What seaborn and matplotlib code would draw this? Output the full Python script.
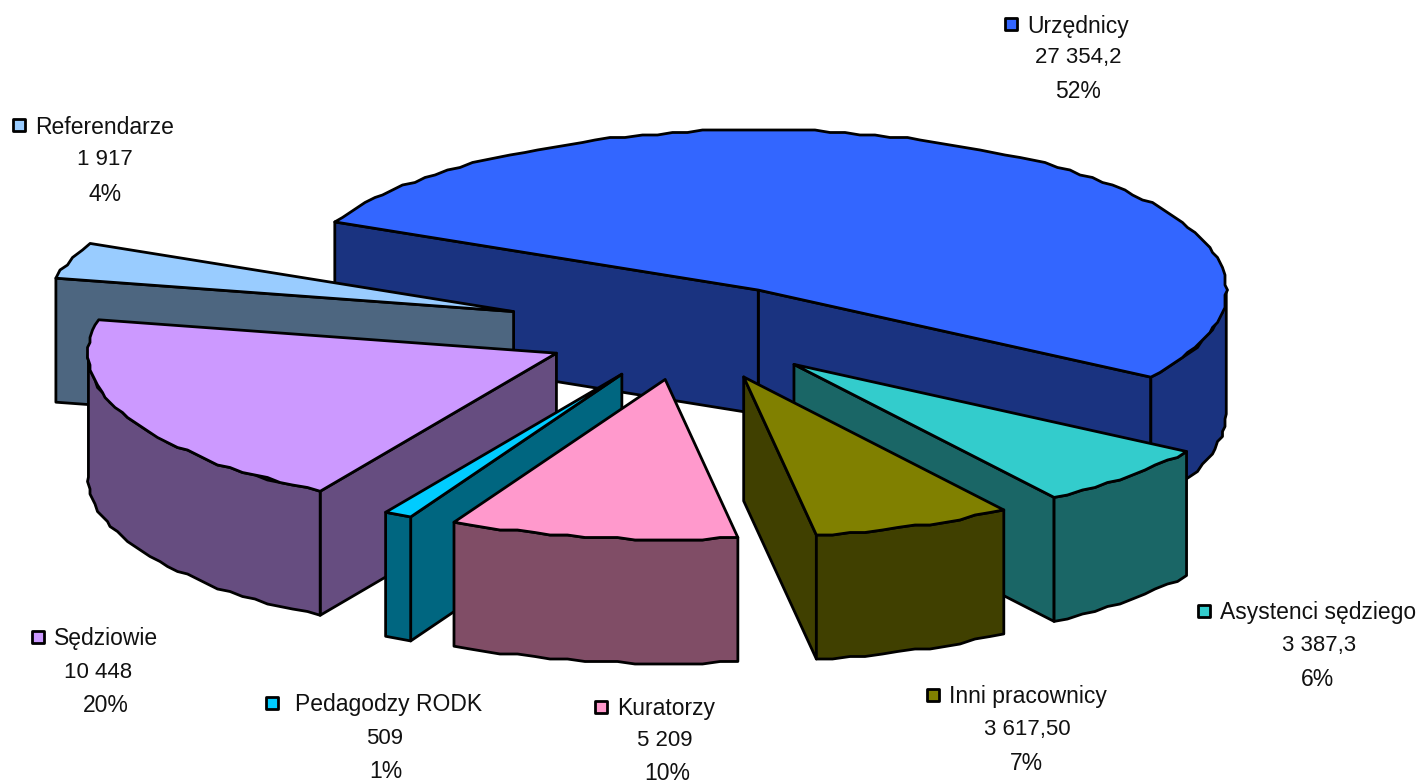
import numpy as np
import matplotlib
matplotlib.use('Agg')
import matplotlib.pyplot as plt
import seaborn as sns

# Data
names = ['Urzędnicy', 'Asystenci sędziego', 'Inni pracownicy', 'Kuratorzy',
         'Pedagodzy RODK', 'Sędziowie', 'Referendarze']
values = [27354.2, 3387.3, 3617.5, 5209, 509, 10448, 1917]
value_labels = ['27 354,2', '3 387,3', '3 617,50', '5 209', '509', '10 448', '1 917']
explode = [0.3, 0.315, 0.315, 0.3, 0.3, 0.312, 0.4]
top_colors = ['#3366FF', '#33CCCC', '#808000', '#FF99CC', '#00CCFF', '#CC99FF', '#99CCFF']
side_colors = ['#1A3380', '#1A6666', '#404000', '#804D66', '#006680', '#664D80', '#4D6680']

# Small per-slice corrections of the slice position, in pixels
nudge_x = [0, -1, 0, -3, -1, 0, 1]
nudge_y = [0, -3, -2, 0, 0, 1, 0]

# Layout in pixels: legend square x, name x, centres of value/percent lines, y of the 3 lines
square_x = [1011, 1204, 933, 601, 272, 38, 19]
name_x = [1027, 1220, 949, 617, 295, 54, 35]
value_x = [1078, 1319, 1027, 665, 385, 98, 105]
pct_x = [1078, 1318, 1026, 667, 386, 106, 105]
line_y = [(26, 57, 91), (613, 646, 679), (697, 730, 763), (709, 741, 774),
          (705, 739, 771), (639, 673, 706), (127, 159, 194)]

cx, cy = 690, 332
rx, ry = 468, 160
depth = 124
start_angle = 154.8
jag = 2.5  # original outline is a bit jagged, snap arc points to a coarse grid

sns.set_theme(style='white')
plt.rcParams['font.family'] = ['Liberation Sans', 'DejaVu Sans']

fig, ax = plt.subplots(figsize=(14.18, 7.84), dpi=100)
fig.subplots_adjust(0, 0, 1, 1)
ax.set_xlim(0, 1418)
ax.set_ylim(784, 0)
ax.axis('off')

fractions = np.array(values) / sum(values)
ends = start_angle - np.cumsum(fractions) * 360
starts = ends + fractions * 360


def arc(x0, y0, t1, t2):
    n = max(int(abs(t1 - t2) / 1.9), 2)
    t = np.radians(np.linspace(t1, t2, n))
    x = x0 + rx * np.cos(t)
    y = y0 - ry * np.sin(t)
    x[1:-1] = np.round(x[1:-1] / jag) * jag
    y[1:-1] = np.round(y[1:-1] / jag) * jag
    return x, y


def face(x, y, color):
    ax.fill(x, y, facecolor=color, edgecolor='black', lw=2.0, joinstyle='round')


# painter's order, back to front
for i in [0, 6, 5, 4, 1, 2, 3]:
    t1, t2 = starts[i], ends[i]
    mid = np.radians((t1 + t2) / 2)
    x0 = cx + explode[i] * rx * np.cos(mid) + nudge_x[i]
    y0 = cy - explode[i] * ry * np.sin(mid) + nudge_y[i]

    # cut walls that face the viewer
    for t, normal in [(t2, t2 - 90), (t1, t1 + 90)]:
        if np.sin(np.radians(normal)) < 0:
            ex = x0 + rx * np.cos(np.radians(t))
            ey = y0 - ry * np.sin(np.radians(t))
            face([x0, ex, ex, x0], [y0, ey, ey + depth, y0 + depth], side_colors[i])

    # outer rim, lower half of the ellipse only
    for lo, hi in [(-180, 0), (-540, -360), (180, 360)]:
        a, b = max(t2, lo), min(t1, hi)
        if a < b:
            ox, oy = arc(x0, y0, a, b)
            face(np.r_[ox, ox[::-1]], np.r_[oy, oy[::-1] + depth], side_colors[i])

    ax_, ay_ = arc(x0, y0, t1, t2)
    face(np.r_[x0, ax_], np.r_[y0, ay_], top_colors[i])

# labels
for i in range(len(names)):
    y1, y2, y3 = line_y[i]
    ax.scatter([square_x[i]], [y1 - 2], s=75, marker='s', c=top_colors[i],
               edgecolors='black', linewidths=2.0, zorder=5)
    ax.text(name_x[i], y1, names[i], fontsize=16.5, color='#111111', ha='left', va='center')
    ax.text(value_x[i], y2, value_labels[i], fontsize=16, color='#111111',
            ha='center', va='center')
    ax.text(pct_x[i], y3, f'{fractions[i] * 100:.0f}%', fontsize=16.5, color='#111111',
            ha='center', va='center')

fig.savefig('out.png', dpi=100)
